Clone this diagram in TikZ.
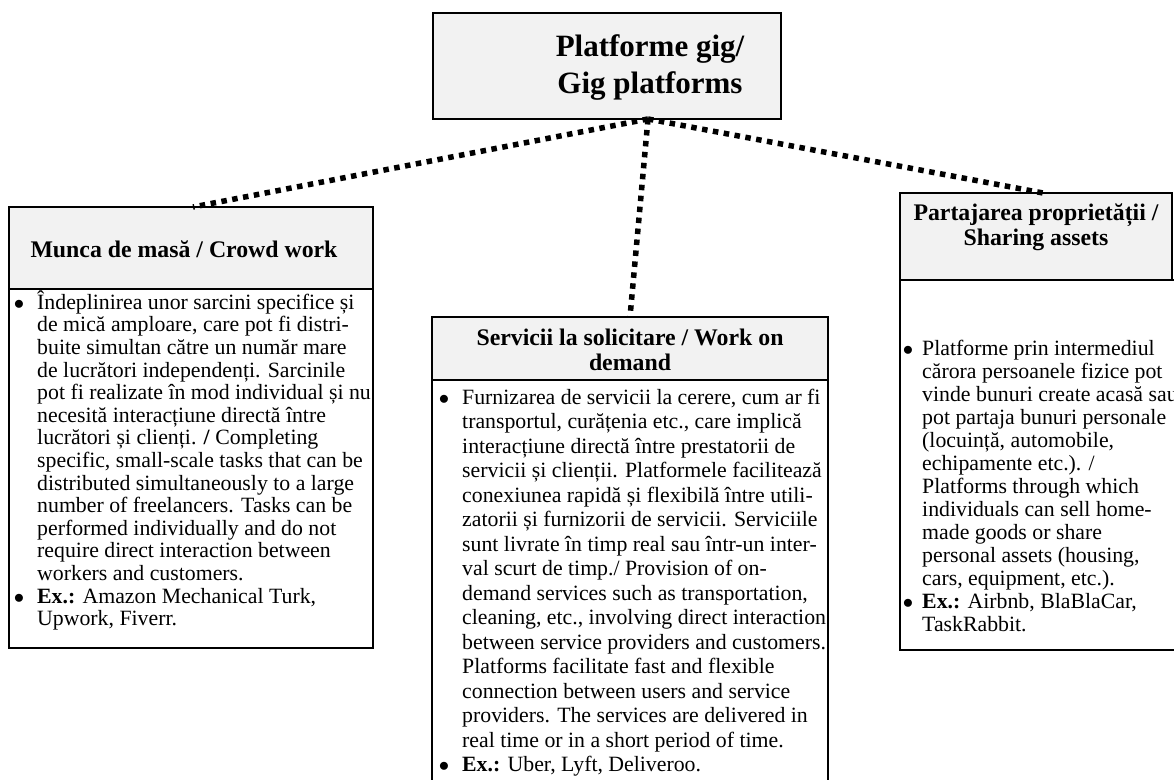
\documentclass[tikz,border=0pt]{standalone}
\usepackage{fontspec}
\setmainfont{Liberation Serif}
\definecolor{headgray}{HTML}{F2F2F2}
\begin{document}
\begin{tikzpicture}[x=1pt,y=-1pt,
  box/.style={draw=black, line width=1.5pt, inner sep=0pt, outer sep=0pt},
  headbox/.style={box, fill=headgray},
  bodybox/.style={box, fill=white},
  headtext/.style={inner sep=0pt, align=center, font=\bfseries\fontsize{23.8}{25}\selectfont},
  bodytext/.style={inner sep=0pt, anchor=north west, align=left},
  dotline/.style={line width=5.5pt, dash pattern=on 5.5pt off 5.5pt}
]
\useasboundingbox (0,0) rectangle (1174,779);
\newcommand{\bul}{\llap{$\bullet$\hspace{13pt}}}
\newcommand{\bulr}{\llap{$\bullet$\hspace{9pt}}}
\newcommand{\fr}{\rule{0pt}{20pt}}

% top box
\node[headbox, minimum width=348pt, minimum height=106pt, anchor=north west] (topbox) at (433,13) {};
\node[inner sep=0pt, align=center, font=\bfseries\fontsize{31}{37}\selectfont] (toptext) at (650,68) {Platforme gig/\\Gig platforms};

% left box
\node[bodybox, minimum width=364pt, minimum height=359pt, anchor=north west] (leftbody) at (9,289) {};
\node[headbox, minimum width=364pt, minimum height=82pt, anchor=north west] (lefthead) at (9,207) {};
\node[headtext] (lefttitle) at (184,249) {Munca de masă / Crowd work};
\node[bodytext, font=\fontsize{21.8}{22.6}\selectfont] (lefttext) at (37,289) {%
\fr\bul Îndeplinirea unor sarcini specifice și\\
de mică amploare, care pot fi distri-\\
buite simultan către un număr mare\\
de lucrători independenți. Sarcinile\\
pot fi realizate în mod individual și nu\\
necesită interacțiune directă între\\
lucrători și clienți. \textbf{/} Completing\\
specific, small-scale tasks that can be\\
distributed simultaneously to a large\\
number of freelancers. Tasks can be\\
performed individually and do not\\
require direct interaction between\\
workers and customers.\\
\bul\textbf{Ex.:} Amazon Mechanical Turk,\\
Upwork, Fiverr.};

% middle box
\node[bodybox, minimum width=396pt, minimum height=420pt, anchor=north west] (midbody) at (432,380) {};
\node[headbox, minimum width=396pt, minimum height=63pt, anchor=north west] (midhead) at (432,317) {};
\node[headtext] (midtitle) at (630,350) {Servicii la solicitare / Work on\\demand};
\node[bodytext, font=\fontsize{21.8}{24.5}\selectfont] (midtext) at (462,384) {%
\fr\bul Furnizarea de servicii la cerere, cum ar fi\\
transportul, curățenia etc., care implică\\
interacțiune directă între prestatorii de\\
servicii și clienții. Platformele facilitează\\
conexiunea rapidă și flexibilă între utili-\\
zatorii și furnizorii de servicii. Serviciile\\
sunt livrate în timp real sau într-un inter-\\
val scurt de timp./ Provision of on-\\
demand services such as transportation,\\
cleaning, etc., involving direct interaction\\
between service providers and customers.\\
Platforms facilitate fast and flexible\\
connection between users and service\\
providers. The services are delivered in\\
real time or in a short period of time.\\
\bul\textbf{Ex.:} Uber, Lyft, Deliveroo.};

% right box
\node[bodybox, minimum width=300pt, minimum height=370pt, anchor=north west] (rightbody) at (900,280) {};
\node[headbox, minimum width=272pt, minimum height=87pt, anchor=north west] (righthead) at (900,193) {};
\node[headtext] (righttitle) at (1036,227) {Partajarea proprietății /\\Sharing assets};
\node[bodytext, font=\fontsize{21.8}{23}\selectfont] (righttext) at (922,335) {%
\fr\bulr Platforme prin intermediul\\
cărora persoanele fizice pot\\
vinde bunuri create acasă sau\\
pot partaja bunuri personale\\
(locuință, automobile,\\
echipamente etc.). /\\
Platforms through which\\
individuals can sell home-\\
made goods or share\\
personal assets (housing,\\
cars, equipment, etc.).\\
\bulr\textbf{Ex.:} Airbnb, BlaBlaCar,\\
TaskRabbit.};

% connectors
\coordinate (hub) at ([xshift=41pt]topbox.south);
\draw[dotline] (hub) -- ([xshift=2pt]lefthead.north);
\draw[dotline] (hub) -- (midhead.north);
\draw[dotline] (hub) -- ([xshift=7pt]righthead.north);
\end{tikzpicture}
\end{document}
